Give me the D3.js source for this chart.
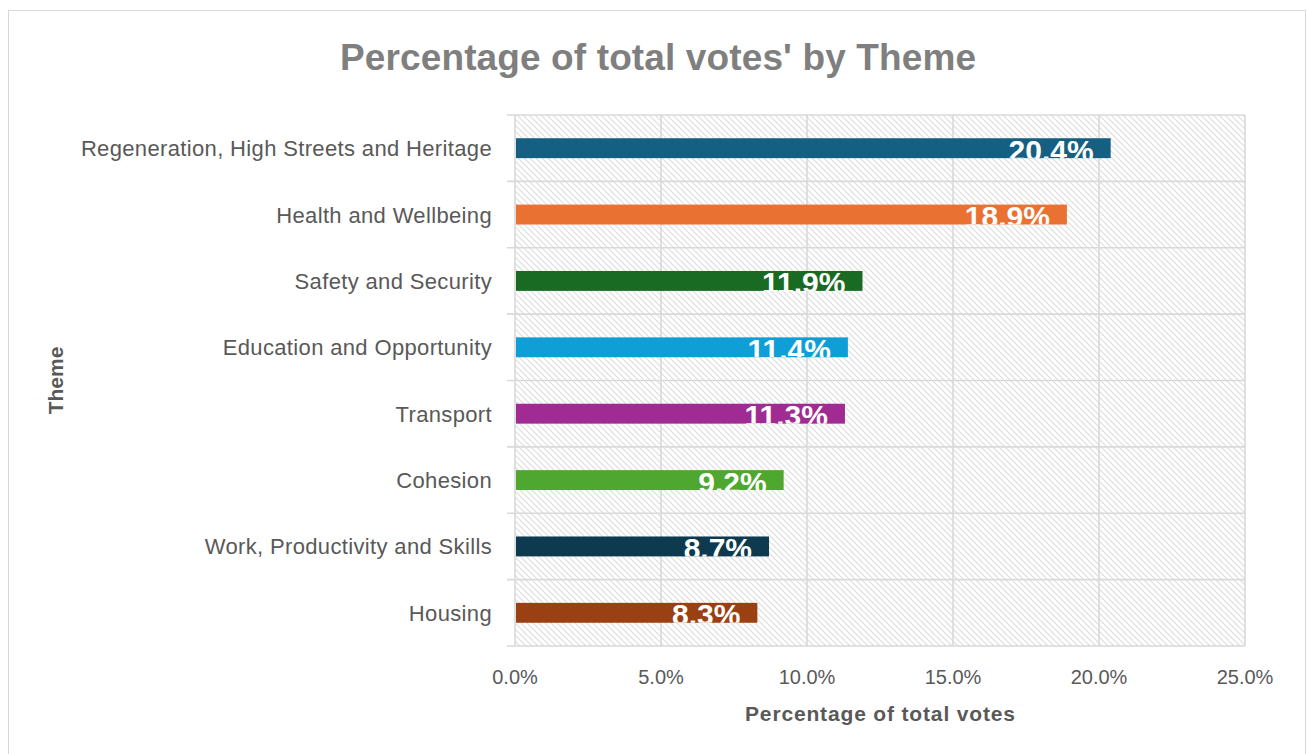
<!DOCTYPE html>
<html>
<head>
<meta charset="utf-8">
<script src="https://cdn.jsdelivr.net/npm/d3@7"></script>
<style>
  html, body { margin: 0; padding: 0; background: #ffffff; }
  svg { display: block; font-family: "Liberation Sans", Arial, sans-serif; }
</style>
</head>
<body>
<svg id="chart" width="1307" height="754"></svg>
<script>
// ---- Data ----
const categories = [
  "Regeneration, High Streets and Heritage",
  "Health and Wellbeing",
  "Safety and Security",
  "Education and Opportunity",
  "Transport",
  "Cohesion",
  "Work, Productivity and Skills",
  "Housing"
];
const values = [20.4, 18.9, 11.9, 11.4, 11.3, 9.2, 8.7, 8.3];
const barColors = ["#156082", "#E97132", "#196B24", "#0F9ED5", "#A02B93", "#4EA72E", "#0D3A4F", "#9A4012"];
const xTicks = [0, 5, 10, 15, 20, 25];
const titleText = "Percentage of total votes' by Theme";
const xAxisTitle = "Percentage of total votes";
const yAxisTitle = "Theme";

// ---- Layout ----
const W = 1307, H = 754;
const plot = { left: 515, right: 1245, top: 115, bottom: 646 };

const svg = d3.select("#chart");

// outer chart border
svg.append("rect")
  .attr("x", 8.5).attr("y", 10.5)
  .attr("width", 1297).attr("height", 760)
  .attr("fill", "#ffffff")
  .attr("stroke", "#d9d9d9").attr("stroke-width", 1);

// hatch pattern
const defs = svg.append("defs");
const pat = defs.append("pattern")
  .attr("id", "hatch")
  .attr("patternUnits", "userSpaceOnUse")
  .attr("width", 6).attr("height", 6);
pat.append("rect").attr("width", 6).attr("height", 6).attr("fill", "#ffffff");
pat.append("path")
  .attr("d", "M-3,3 L3,9 M0,0 L6,6 M3,-3 L9,3")
  .attr("stroke", "#dedede").attr("stroke-width", 1.2);

const x = d3.scaleLinear().domain([0, 25]).range([plot.left, plot.right]);
const y = d3.scaleBand().domain(categories).range([plot.top, plot.bottom])
  .paddingInner(0.7).paddingOuter(0.35);
const step = y.step();

// plot background
svg.append("rect")
  .attr("x", plot.left).attr("y", plot.top)
  .attr("width", plot.right - plot.left).attr("height", plot.bottom - plot.top)
  .attr("fill", "url(#hatch)");

// vertical gridlines
svg.append("g").selectAll("line").data(xTicks).join("line")
  .attr("x1", d => x(d)).attr("x2", d => x(d))
  .attr("y1", plot.top).attr("y2", plot.bottom)
  .attr("stroke", "#d9d9d9").attr("stroke-width", 1.6);

// horizontal category separators (with tick marks extending left)
const sepY = d3.range(categories.length + 1).map(i => plot.top + i * step);
svg.append("g").selectAll("line").data(sepY).join("line")
  .attr("x1", plot.left - 8).attr("x2", plot.right)
  .attr("y1", d => d).attr("y2", d => d)
  .attr("stroke", "#d9d9d9").attr("stroke-width", 1.6);

// bars
const bars = categories.map((c, i) => ({ c, v: values[i], color: barColors[i], i }));
bars.forEach(b => {
  defs.append("clipPath").attr("id", "clip" + b.i)
    .append("rect")
    .attr("x", x(0)).attr("y", y(b.c))
    .attr("width", x(b.v) - x(0)).attr("height", y.bandwidth());
});

svg.append("g").selectAll("rect").data(bars).join("rect")
  .attr("x", x(0) + 1)
  .attr("y", d => y(d.c))
  .attr("width", d => x(d.v) - x(0) - 1)
  .attr("height", y.bandwidth())
  .attr("fill", d => d.color);

// value labels (inside end, clipped to bar)
svg.append("g").selectAll("text").data(bars).join("text")
  .attr("clip-path", d => "url(#clip" + d.i + ")")
  .attr("x", d => x(d.v) - 17)
  .attr("y", d => y(d.c) + y.bandwidth() / 2 + 12.5)
  .attr("text-anchor", "end")
  .attr("font-size", 30).attr("font-weight", "bold")
  .attr("fill", "#ffffff")
  .text(d => d.v.toFixed(1) + "%");

// category labels
svg.append("g").selectAll("text").data(categories).join("text")
  .attr("x", 492)
  .attr("y", d => y(d) + y.bandwidth() / 2 + 8)
  .attr("text-anchor", "end")
  .attr("font-size", 22)
  .attr("letter-spacing", "0.35px")
  .attr("fill", "#595959")
  .text(d => d);

// x tick labels
svg.append("g").selectAll("text").data(xTicks).join("text")
  .attr("x", d => x(d))
  .attr("y", 684)
  .attr("text-anchor", "middle")
  .attr("font-size", 20)
  .attr("fill", "#595959")
  .text(d => d.toFixed(1) + "%");

// title
svg.append("text")
  .attr("x", 658).attr("y", 70)
  .attr("text-anchor", "middle")
  .attr("font-size", 37).attr("font-weight", "bold")
  .attr("fill", "#7f7f7f")
  .attr("textLength", 636).attr("lengthAdjust", "spacing")
  .text(titleText);

// x axis title
svg.append("text")
  .attr("x", 880).attr("y", 721)
  .attr("text-anchor", "middle")
  .attr("font-size", 21).attr("font-weight", "bold")
  .attr("fill", "#595959")
  .attr("textLength", 270).attr("lengthAdjust", "spacing")
  .text(xAxisTitle);

// y axis title
svg.append("text")
  .attr("transform", "translate(63," + ((plot.top + plot.bottom) / 2) + ") rotate(-90)")
  .attr("text-anchor", "middle")
  .attr("font-size", 21).attr("font-weight", "bold")
  .attr("fill", "#595959")
  .text(yAxisTitle);
</script>
</body>
</html>
